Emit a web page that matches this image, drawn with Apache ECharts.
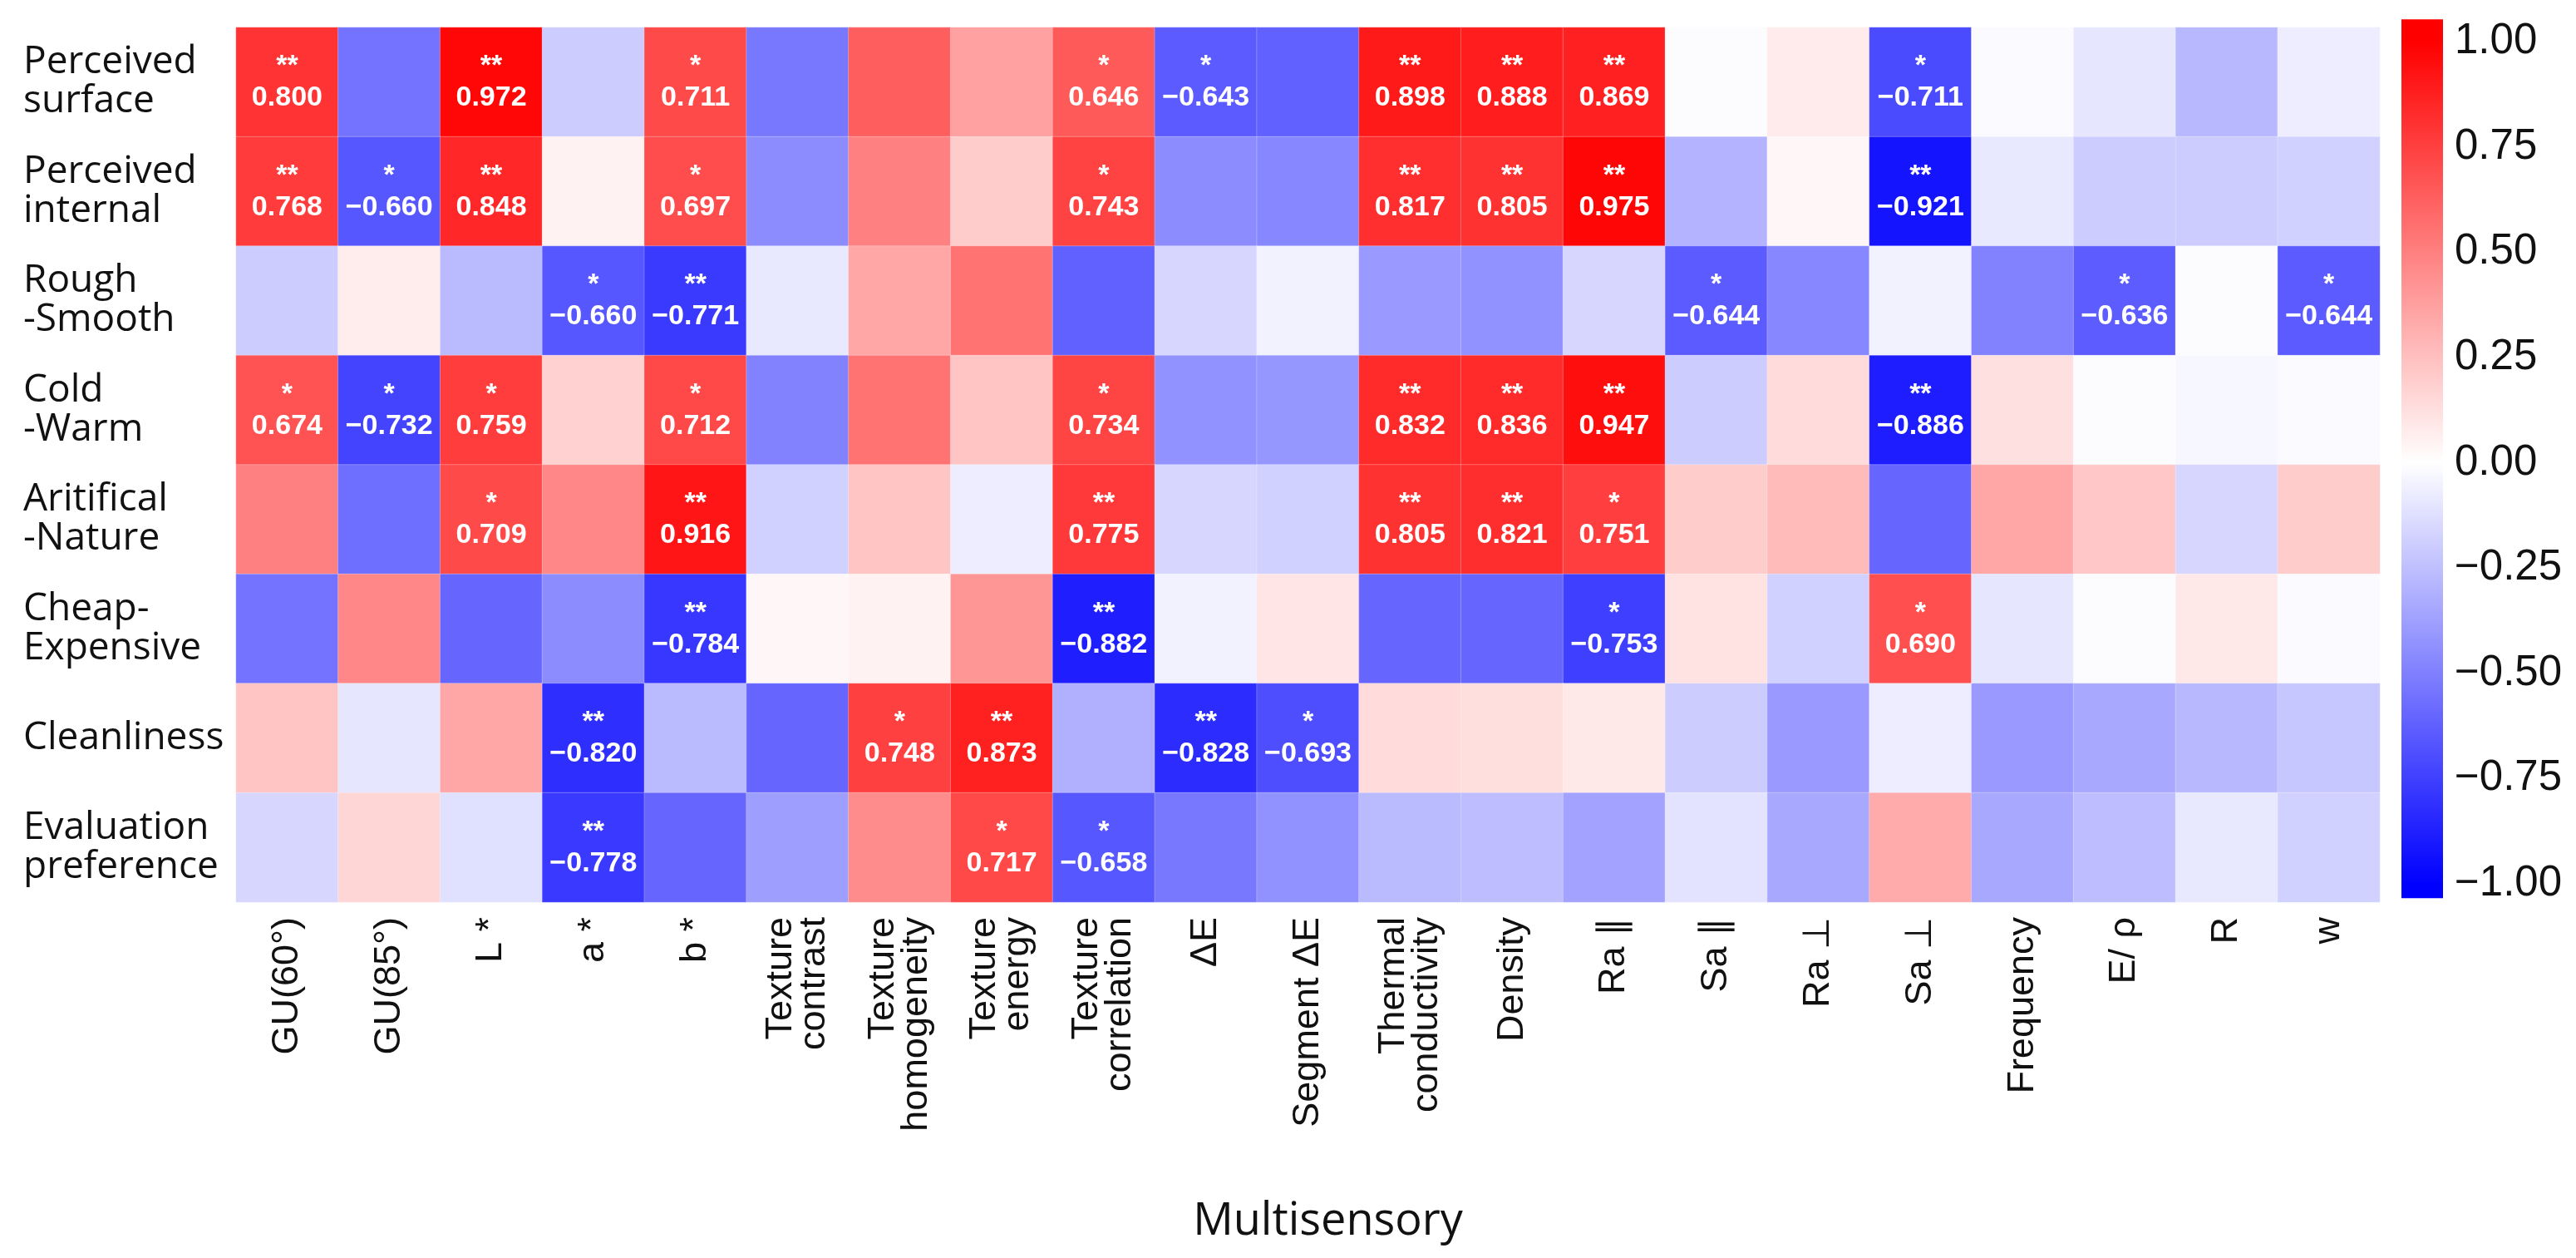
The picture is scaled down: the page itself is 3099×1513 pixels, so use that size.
<!DOCTYPE html>
<html>
<head>
<meta charset="utf-8">
<script src="https://cdn.jsdelivr.net/npm/echarts@6/dist/echarts.min.js"></script>
<style>
html,body{margin:0;padding:0;background:#fff;}
#chart{width:3099px;height:1513px;}
</style>
</head>
<body>
<div id="chart"></div>
<script>
// ---------- data ----------
const rowNames = ['Perceived\nsurface','Perceived\ninternal','Rough\n-Smooth','Cold\n-Warm','Aritifical\n-Nature','Cheap-\nExpensive','Cleanliness','Evaluation\npreference'];
const colNames = ['GU(60°)','GU(85°)','L *','a *','b *','Texture\ncontrast','Texture\nhomogeneity','Texture\nenergy','Texture\ncorrelation','ΔE','Segment ΔE','Thermal\nconductivity','Density','Ra ∥','Sa ∥','Ra ⊥','Sa ⊥','Frequency','E/ ρ','R','w'];

const perceivedSurface   = [0.800,-0.55,0.972,-0.20,0.711,-0.53,0.63,0.37,0.646,-0.643,-0.62,0.898,0.888,0.869,-0.01,0.08,-0.711,-0.02,-0.10,-0.28,-0.07];
const perceivedInternal  = [0.768,-0.660,0.848,0.05,0.697,-0.45,0.50,0.20,0.743,-0.45,-0.47,0.817,0.805,0.975,-0.30,0.03,-0.921,-0.09,-0.20,-0.20,-0.18];
const roughSmooth        = [-0.20,0.07,-0.27,-0.660,-0.771,-0.09,0.35,0.55,-0.62,-0.16,-0.05,-0.40,-0.43,-0.16,-0.644,-0.47,-0.05,-0.49,-0.636,-0.01,-0.644];
const coldWarm           = [0.674,-0.732,0.759,0.18,0.712,-0.49,0.55,0.23,0.734,-0.43,-0.41,0.832,0.836,0.947,-0.20,0.14,-0.886,0.12,-0.01,-0.03,-0.02];
const artificialNature   = [0.50,-0.57,0.709,0.47,0.916,-0.18,0.23,-0.07,0.775,-0.16,-0.18,0.805,0.821,0.751,0.20,0.27,-0.60,0.35,0.22,-0.16,0.20];
const cheapExpensive     = [-0.55,0.47,-0.60,-0.45,-0.784,0.03,0.05,0.41,-0.882,-0.05,0.10,-0.60,-0.60,-0.753,0.11,-0.18,0.690,-0.10,-0.01,0.09,-0.02];
const cleanliness        = [0.23,-0.10,0.35,-0.820,-0.27,-0.60,0.748,0.873,-0.31,-0.828,-0.693,0.14,0.13,0.09,-0.20,-0.40,-0.07,-0.40,-0.34,-0.28,-0.22];
const evaluationPref     = [-0.16,0.16,-0.12,-0.778,-0.60,-0.38,0.45,0.717,-0.658,-0.53,-0.43,-0.27,-0.26,-0.36,-0.11,-0.34,0.33,-0.34,-0.26,-0.09,-0.18];

const sigSurface    = ['**','','**','','*','','','','*','*','','**','**','**','','','*','','','',''];
const sigInternal   = ['**','*','**','','*','','','','*','','','**','**','**','','','**','','','',''];
const sigRough      = ['','','','*','**','','','','','','','','','','*','','','','*','','*'];
const sigCold       = ['*','*','*','','*','','','','*','','','**','**','**','','','**','','','',''];
const sigNature     = ['','','*','','**','','','','**','','','**','**','*','','','','','','',''];
const sigCheap      = ['','','','','**','','','','**','','','','','*','','','*','','','',''];
const sigClean      = ['','','','**','','','*','**','','**','*','','','','','','','','','',''];
const sigEval       = ['','','','**','','','','*','*','','','','','','','','','','','',''];

const colorbarTicks = [-1, -0.75, -0.5, -0.25, 0, 0.25, 0.5, 0.75, 1];
const colorbarExtent = [-1.034, 1.053];

// ---------- build ----------
const valueRows = [perceivedSurface, perceivedInternal, roughSmooth, coldWarm, artificialNature, cheapExpensive, cleanliness, evaluationPref];
const sigRows = [sigSurface, sigInternal, sigRough, sigCold, sigNature, sigCheap, sigClean, sigEval];

const heatData = [];
valueRows.forEach((row, r) => row.forEach((v, c) => heatData.push([c, r, v])));

function fmt(v) {
  return (v < 0 ? '\u2212' : '') + Math.abs(v).toFixed(3);
}
function bwr(v) {
  v = Math.max(-1, Math.min(1, v));
  let r, g, b;
  if (v < 0) { r = g = Math.round(255 * (1 + v)); b = 255; }
  else { r = 255; g = b = Math.round(255 * (1 - v)); }
  return 'rgb(' + r + ',' + g + ',' + b + ')';
}

const chart = echarts.init(document.getElementById('chart'), null, {renderer: 'canvas'});

const option = {
  backgroundColor: '#ffffff',
  animation: false,
  grid: [
    {left: 284, right: 236, top: 33, bottom: 428, containLabel: false},
    {left: 2889, width: 50, top: 50, height: 1013, containLabel: false}
  ],
  xAxis: [
    {
      type: 'category', gridIndex: 0, data: colNames,
      axisLine: {show: false}, axisTick: {show: false}, splitLine: {show: false},
      axisLabel: {
        rotate: 90, interval: 0, margin: 18,
        fontFamily: 'Liberation Sans, Arial, sans-serif', fontSize: 45, color: '#111',
        lineHeight: 40
      },
      name: 'Multisensory', nameLocation: 'middle', nameGap: 358,
      nameTextStyle: {fontFamily: 'Open Sans, sans-serif', fontSize: 54, color: '#111', padding: [0, 0, 0, 48]}
    },
    {
      type: 'value', gridIndex: 1, min: 0, max: 1, show: false
    }
  ],
  yAxis: [
    {
      type: 'category', gridIndex: 0, data: rowNames, inverse: true,
      axisLine: {show: false}, axisTick: {show: false}, splitLine: {show: false},
      axisLabel: {
        align: 'left', margin: 256, interval: 0,
        fontFamily: 'Open Sans, sans-serif', fontSize: 46, color: '#111',
        lineHeight: 47, padding: [14, 0, 0, 0]
      }
    },
    {
      type: 'value', gridIndex: 1, position: 'right', min: -1, max: 1, interval: 0.25,
      axisLine: {show: false}, axisTick: {show: false}, splitLine: {show: false},
      axisLabel: {
        margin: 14, fontFamily: 'Liberation Sans, Arial, sans-serif', fontSize: 51, color: '#111',
        formatter: v => (v < 0 ? '\u2212' : '') + Math.abs(v).toFixed(2)
      }
    }
  ],
  visualMap: {
    show: false, type: 'continuous', min: -1, max: 1, seriesIndex: 0,
    inRange: {color: ['#0000ff', '#ffffff', '#ff0000']}
  },
  series: [
    {
      type: 'heatmap', xAxisIndex: 0, yAxisIndex: 0, data: heatData,
      itemStyle: {borderColor: 'rgba(255,255,255,0.25)', borderWidth: 1},
      emphasis: {disabled: true},
      label: {
        show: true,
        formatter: p => {
          const s = sigRows[p.value[1]][p.value[0]];
          if (!s) return '';
          return '{s|' + s + '}\n{n|' + fmt(p.value[2]) + '}';
        },
        rich: {
          s: {fontFamily: 'Liberation Sans, Arial, sans-serif', fontWeight: 'bold', fontSize: 34, color: '#ffffff', lineHeight: 38},
          n: {fontFamily: 'Liberation Sans, Arial, sans-serif', fontWeight: 'bold', fontSize: 34, color: '#ffffff', lineHeight: 38}
        }
      }
    },
    {
      type: 'custom', xAxisIndex: 1, yAxisIndex: 1, data: [[0, 0]], silent: true, clip: false,
      renderItem: (params, api) => {
        const lo = colorbarExtent[0], hi = colorbarExtent[1];
        const pTop = api.coord([0, hi]);
        const pBot = api.coord([1, lo]);
        const span = hi - lo;
        const stops = [];
        [hi, 1, 0, -1, lo].forEach(v => stops.push({offset: (hi - v) / span, color: bwr(v)}));
        return {
          type: 'rect',
          shape: {x: pTop[0], y: pTop[1], width: pBot[0] - pTop[0], height: pBot[1] - pTop[1]},
          style: {fill: new echarts.graphic.LinearGradient(0, 0, 0, 1, stops)}
        };
      }
    }
  ]
};
chart.setOption(option);
</script>
</body>
</html>
